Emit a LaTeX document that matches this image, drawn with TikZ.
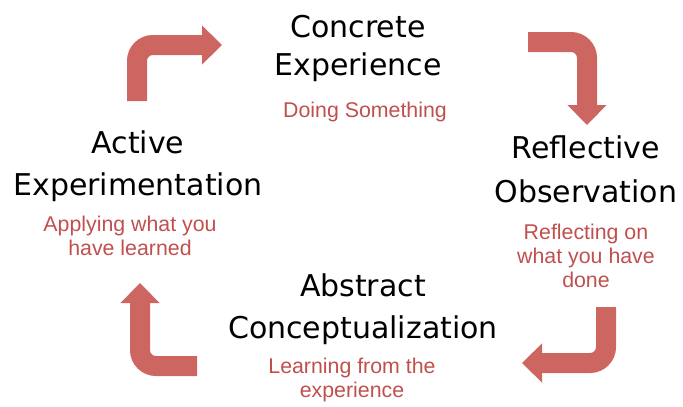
\documentclass[tikz,border=0pt]{standalone}
\usepackage{fontspec}
\setmainfont{Liberation Sans}
\newfontfamily\headfont{DejaVu Sans}
\usetikzlibrary{arrows.meta}
\definecolor{arrowred}{RGB}{205,102,97}
\definecolor{textred}{RGB}{192,80,77}

\begin{document}
\begin{tikzpicture}
        [x=0.75pt,y=-0.75pt,
         stage/.style={font=\headfont\fontsize{22.5}{31}\selectfont, align=center, inner sep=0pt, anchor=base},
         doing/.style={text=textred, font=\fontsize{16}{17.8}\selectfont, align=center, inner sep=0pt, anchor=base},
         turn/.style={draw=arrowred, line width=15pt, rounded corners=12pt,
           -{Triangle[width=28.5pt,length=15pt]}}]
        \useasboundingbox (0,0) rectangle (683,407);
        %\draw[help lines] (0,0) grid[step=50] (683,407);
        \node[stage,font=\headfont\fontsize{22.5}{28.5}\selectfont] (ce) at (358,75) {Concrete\\Experience};
        \node[stage,font=\headfont\fontsize{22.5}{33}\selectfont] (ro) at (586,202) {Reflective\\Observation};
        \node[stage] (ac) at (363,338) {Abstract\\Conceptualization};
        \node[stage] (ae) at (138,195) {Active\\Experimentation};
        \node[doing] (ce-doing) at (365,117) {Doing Something};
        \node[doing] (ro-doing) at (586,287) {Reflecting on\\what you have\\done};
        \node[doing] (ac-doing) at (352,397) {Learning from the\\experience};
        \node[doing] (ae-doing) at (130,255) {Applying what you\\have learned};
        \coordinate (ae-out) at (137,101);
        \coordinate (ce-in) at (222,45);
        \coordinate (ce-out) at (528,42);
        \coordinate (ro-in) at (587,125);
        \coordinate (ro-out) at (606,307);
        \coordinate (ac-in) at (522,363);
        \coordinate (ac-out) at (197,366);
        \coordinate (ae-in) at (140,283);
        \draw[turn] (ae-out) |- (ce-in);
        \draw[turn] (ce-out) -| (ro-in);
        \draw[turn] (ro-out) |- (ac-in);
        \draw[turn] (ac-out) -| (ae-in);
      \end{tikzpicture}
\end{document}
